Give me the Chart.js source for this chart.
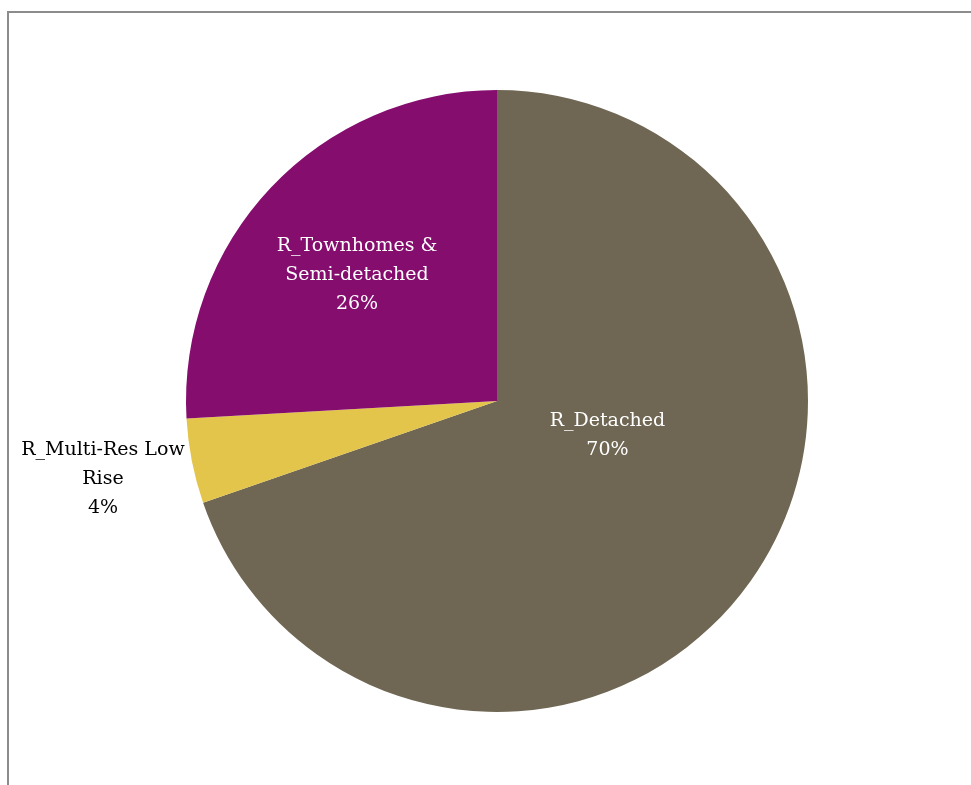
<!DOCTYPE html>
<html>
<head>
<meta charset="utf-8">
<script src="https://cdn.jsdelivr.net/npm/chart.js@4/dist/chart.umd.min.js"></script>
<style>
  html, body { margin: 0; padding: 0; background: #ffffff; }
  #wrap { position: relative; width: 971px; height: 785px; overflow: hidden; }
  #frame { position: absolute; left: 7px; top: 11px; width: 1000px; height: 800px;
           border-top: 2px solid #8c8c8c; border-left: 2px solid #8c8c8c; box-sizing: border-box; }
  canvas { position: absolute; left: 0; top: 0; }
</style>
</head>
<body>
<div id="wrap">
  <div id="frame"></div>
  <canvas id="c" width="971" height="785"></canvas>
</div>
<script>
const categories = ["R_Detached", "R_Multi-Res Low Rise", "R_Townhomes & Semi-detached"];
const labelLines = [["R_Detached"], ["R_Multi-Res Low", "Rise"], ["R_Townhomes &", "Semi-detached"]];
const shares = [69.7, 4.4, 25.9];
const percentLabels = ["70%", "4%", "26%"];
const sliceColors = ["#6f6753", "#e3c54b", "#850d6e"];

// label anchor offsets (fraction of radius) and text colours
const labelPlacement = [
  { fx: 0.355, fy: 0.11, color: "#ffffff" },
  { fx: -1.267, fy: 0.25, color: "#000000" },
  { fx: -0.45, fy: -0.405, color: "#ffffff" }
];

const labelPlugin = {
  id: "sliceLabels",
  afterDatasetsDraw(chart) {
    const ctx = chart.ctx;
    const meta = chart.getDatasetMeta(0);
    const arc0 = meta.data[0];
    const cx = arc0.x, cy = arc0.y, r = arc0.outerRadius;
    ctx.save();
    ctx.font = '19px "Palatino Linotype", "Book Antiqua", Palatino, "DejaVu Serif", serif';
    ctx.textAlign = "center";
    ctx.textBaseline = "middle";
    const lh = 29;
    meta.data.forEach((arc, i) => {
      const p = labelPlacement[i];
      const lines = labelLines[i].concat([percentLabels[i]]);
      const x = cx + p.fx * r;
      const y = cy + p.fy * r;
      const top = y - (lines.length - 1) * lh / 2;
      ctx.fillStyle = p.color;
      lines.forEach((t, k) => ctx.fillText(t, x, top + k * lh));
    });
    ctx.restore();
  }
};

new Chart(document.getElementById("c"), {
  type: "pie",
  data: {
    labels: categories,
    datasets: [{
      data: shares,
      backgroundColor: sliceColors,
      borderWidth: 0
    }]
  },
  options: {
    responsive: false,
    animation: false,
    layout: { padding: { left: 186, right: 163, top: 90, bottom: 73 } },
    plugins: {
      legend: { display: false },
      tooltip: { enabled: false }
    }
  },
  plugins: [labelPlugin]
});
</script>
</body>
</html>
